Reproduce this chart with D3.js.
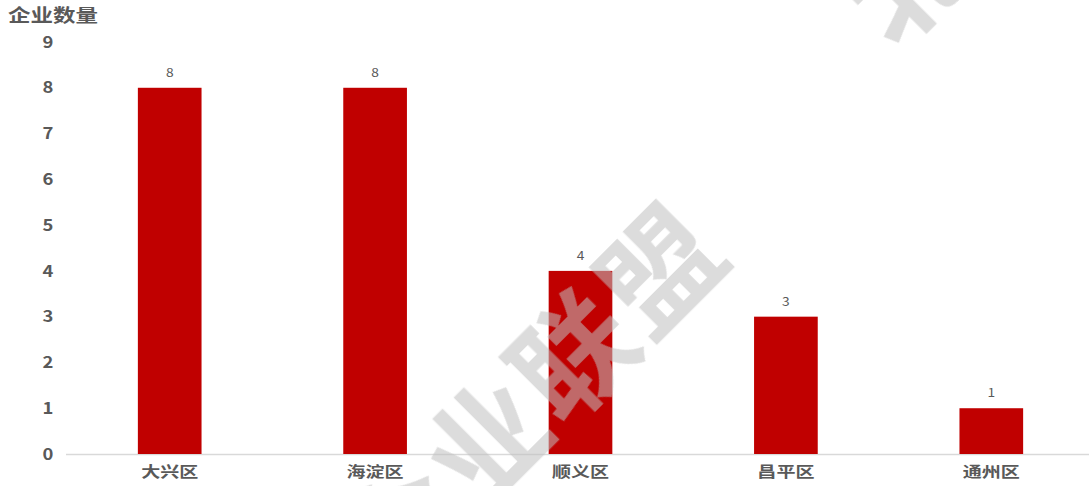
<!DOCTYPE html>
<html>
<head>
<meta charset="utf-8">
<script src="https://cdn.jsdelivr.net/npm/d3@7"></script>
<style>
  body { margin: 0; background: #fff; }
  text { font-family: "Noto Sans CJK SC", "Microsoft YaHei", sans-serif; }
</style>
</head>
<body>
<div id="chart"></div>
<script>
/* DATA */
const districts = ["大兴区", "海淀区", "顺义区", "昌平区", "通州区"];
const counts = [8, 8, 4, 3, 1];
const yTicks = [0, 1, 2, 3, 4, 5, 6, 7, 8, 9];
const yTitle = "企业数量";

/* SIZES */
const width = 1089,
  height = 486,
  margin = { top: 42, bottom: 32, left: 67, right: -5 };

const svg = d3.select("#chart")
  .append("svg")
  .attr("width", width)
  .attr("height", height);

// x - categorical
const xScale = d3.scaleBand()
  .domain(districts)
  .range([margin.left, width - margin.right])
  .paddingInner(0.69)
  .paddingOuter(0.345);

// y - count
const yScale = d3.scaleLinear()
  .domain([0, 9])
  .range([height - margin.bottom, margin.top]);

// y axis labels, no line  (the picture is a bit stretched sideways, so text gets scaleX)
const yAxis = d3.axisLeft(yScale).tickValues(yTicks).tickSize(0).tickPadding(0);
svg.append("g")
  .attr("transform", `translate(48,0)`)
  .call(yAxis)
  .call(g => g.select(".domain").remove())
  .selectAll("text")
  .attr("text-anchor", "middle")
  .attr("transform", "scale(1.15,1)")
  .attr("fill", "#595959")
  .style("font-size", "16px")
  .style("font-weight", "bold");

// baseline
svg.append("line")
  .attr("x1", 66)
  .attr("x2", width)
  .attr("y1", yScale(0) + 0.5)
  .attr("y2", yScale(0) + 0.5)
  .attr("stroke", "#d9d9d9")
  .attr("stroke-width", 1.5);

// x axis labels
const xAxis = d3.axisBottom(xScale).tickSize(0).tickPadding(12);
svg.append("g")
  .attr("transform", `translate(0,${yScale(0)})`)
  .call(xAxis)
  .call(g => g.select(".domain").remove())
  .selectAll("text")
  .attr("transform", "scale(1.27,1)")
  .attr("fill", "#595959")
  .style("font-size", "15px")
  .style("font-weight", "bold");

// title
svg.append("text")
  .attr("transform", "translate(8,22) scale(1.25,1)")
  .attr("fill", "#595959")
  .style("font-size", "18px")
  .style("font-weight", "bold")
  .text(yTitle);

const rows = districts.map((d, i) => ({ district: d, count: counts[i] }));

// bars
svg.selectAll("rect.bar")
  .data(rows)
  .join("rect")
  .attr("class", "bar")
  .attr("x", d => xScale(d.district))
  .attr("width", xScale.bandwidth())
  .attr("y", d => yScale(d.count))
  .attr("height", d => yScale(0) - yScale(d.count))
  .attr("fill", "#c00000");

// value labels
svg.selectAll("text.val")
  .data(rows)
  .join("text")
  .attr("class", "val")
  .attr("transform", d => `translate(${xScale(d.district) + xScale.bandwidth() / 2},${yScale(d.count) - 11}) scale(1.15,1)`)
  .attr("text-anchor", "middle")
  .attr("fill", "#595959")
  .style("font-size", "12px")
  .text(d => d.count);

// watermark
const wm = svg.append("g")
  .attr("fill", "#c0c0c0")
  .attr("opacity", 0.55)
  .style("pointer-events", "none");

wm.append("text")
  .attr("transform", "translate(526,392) rotate(-45)")
  .attr("text-anchor", "middle")
  .attr("dominant-baseline", "central")
  .style("font-size", "118px")
  .style("font-weight", "bold")
  .style("letter-spacing", "4px")
  .text("企业联盟");

wm.append("text")
  .attr("transform", "translate(900,-27) rotate(-45)")
  .attr("text-anchor", "middle")
  .attr("dominant-baseline", "central")
  .style("font-size", "118px")
  .style("font-weight", "bold")
  .text("北");
</script>
</body>
</html>
